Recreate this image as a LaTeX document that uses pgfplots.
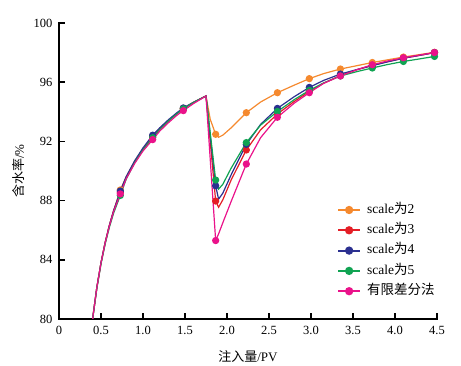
\documentclass[border=0pt]{standalone}
\usepackage{fontspec}
\setmainfont{Liberation Serif}
\newfontfamily\cjk{Noto Sans CJK SC}
\usepackage{pgfplots}
\pgfplotsset{compat=1.18}
\definecolor{cOr}{HTML}{F5892E}
\definecolor{cRe}{HTML}{E41E26}
\definecolor{cBl}{HTML}{2B3090}
\definecolor{cGr}{HTML}{10A352}
\definecolor{cPi}{HTML}{EA128A}
\begin{document}
\begin{tikzpicture}
\useasboundingbox (-59pt,-47pt) rectangle (402pt,319pt);
\begin{axis}[
  at={(0pt,0pt)}, anchor=south west,
  scale only axis, width=378pt, height=296pt,
  xmin=0, xmax=4.5, ymin=80, ymax=100,
  axis x line*=bottom, axis y line*=left,
  axis line style={line width=1.8pt, line cap=rect},
  xtick={0,0.5,1,1.5,2,2.5,3,3.5,4,4.5},
  xticklabels={0,0.5,1.0,1.5,2.0,2.5,3.0,3.5,4.0,4.5},
  ytick={80,84,88,92,96,100},
  tick align=inside, major tick length=6pt,
  tick style={line width=1.6pt, black},
  ticklabel style={font=\fontsize{12.5}{13}\selectfont},
  /pgf/number format/assume math mode=true,
  yticklabel style={xshift=-3pt},
  xticklabel style={yshift=-4pt},
  xlabel={{\cjk 注入量}/PV},
  ylabel={{\cjk 含水率}/\%},
  label style={font=\fontsize{13}{14}\selectfont},
  x label style={at={(axis description cs:0.5,-0.125)}, anchor=center},
  y label style={at={(axis description cs:-0.106,0.5)}, anchor=center},
  mark indices={7,11,15,19,23,25,27,29,31,33,35},
  every axis plot/.append style={line width=1.2pt, mark=*, mark size=3pt, mark options={solid}},
  legend style={draw=none, fill=none, inner sep=0pt,
    at={(axis description cs:0.735,0.39)}, anchor=north west,
    font=\fontsize{13.5}{14}\selectfont,
    nodes={inner sep=0pt, text height=9.5pt, text depth=3pt},
    row sep=7.8pt},
  legend cell align=left,
  /tikz/every odd column/.append style={column sep=6pt},
  legend image code/.code={\draw[mark indices={2},line width=2.2pt] plot coordinates {(0pt,0pt) (11pt,0pt) (22pt,0pt)};},
]
% scale 2
\addplot[cOr] table {
x y
0.40 80.00
0.45 82.11
0.50 83.80
0.55 85.18
0.60 86.33
0.65 87.31
0.73 88.72
0.80 89.60
0.90 90.64
1.00 91.50
1.115 92.36
1.20 92.86
1.30 93.40
1.40 93.88
1.48 94.24
1.60 94.64
1.75 95.07
1.80 93.50
1.865 92.48
1.90 92.28
1.95 92.42
2.05 92.92
2.23 93.94
2.40 94.66
2.60 95.29
2.80 95.80
2.98 96.24
3.15 96.58
3.35 96.89
3.55 97.12
3.73 97.33
3.90 97.50
4.10 97.70
4.30 97.87
4.47 98.02
};
\addlegendentry{scale{\cjk 为}2}
% scale 3
\addplot[cRe] table {
x y
0.40 80.00
0.45 82.11
0.50 83.80
0.55 85.18
0.60 86.33
0.65 87.31
0.73 88.55
0.80 89.56
0.90 90.61
1.00 91.48
1.115 92.30
1.20 92.83
1.30 93.38
1.40 93.86
1.48 94.20
1.60 94.62
1.75 95.07
1.80 92.00
1.865 87.97
1.90 87.55
1.95 88.05
2.05 89.40
2.23 91.42
2.40 92.78
2.60 93.85
2.80 94.70
2.98 95.38
3.15 95.93
3.35 96.45
3.55 96.85
3.73 97.13
3.90 97.37
4.10 97.62
4.30 97.82
4.47 98.00
};
\addlegendentry{scale{\cjk 为}3}
% scale 4
\addplot[cBl] table {
x y
0.40 80.00
0.45 82.11
0.50 83.80
0.55 85.18
0.60 86.33
0.65 87.31
0.73 88.65
0.80 89.62
0.90 90.68
1.00 91.56
1.115 92.42
1.20 92.92
1.30 93.45
1.40 93.92
1.48 94.26
1.60 94.64
1.75 95.07
1.80 92.40
1.865 89.00
1.90 88.10
1.95 88.50
2.05 89.75
2.23 91.80
2.40 93.15
2.60 94.23
2.80 95.02
2.98 95.65
3.15 96.12
3.35 96.55
3.55 96.86
3.73 97.12
3.90 97.36
4.10 97.62
4.30 97.82
4.47 98.00
};
\addlegendentry{scale{\cjk 为}4}
% scale 5
\addplot[cGr] table {
x y
0.40 80.00
0.45 82.05
0.50 83.72
0.55 85.08
0.60 86.20
0.65 87.15
0.73 88.35
0.80 89.45
0.90 90.55
1.00 91.42
1.115 92.25
1.20 92.80
1.30 93.36
1.40 93.85
1.48 94.20
1.60 94.62
1.75 95.07
1.80 92.60
1.865 89.39
1.90 88.78
1.95 89.10
2.05 90.20
2.23 91.92
2.40 93.10
2.60 94.02
2.80 94.82
2.98 95.45
3.15 95.95
3.35 96.42
3.55 96.72
3.73 96.96
3.90 97.18
4.10 97.40
4.30 97.58
4.47 97.74
};
\addlegendentry{scale{\cjk 为}5}
% finite difference
\addplot[cPi] table {
x y
0.40 80.00
0.45 82.10
0.50 83.78
0.55 85.15
0.60 86.28
0.65 87.25
0.73 88.45
0.80 89.48
0.90 90.50
1.00 91.35
1.115 92.12
1.20 92.70
1.30 93.25
1.40 93.75
1.48 94.08
1.60 94.55
1.75 95.07
1.80 90.82
1.865 85.30
1.90 85.75
1.95 86.50
2.05 87.95
2.23 90.47
2.40 92.25
2.60 93.63
2.80 94.58
2.98 95.29
3.15 95.92
3.35 96.42
3.55 96.85
3.73 97.18
3.90 97.42
4.10 97.65
4.30 97.84
4.47 98.00
};
\addlegendentry{\cjk 有限差分法}
\end{axis}
\end{tikzpicture}
\end{document}
